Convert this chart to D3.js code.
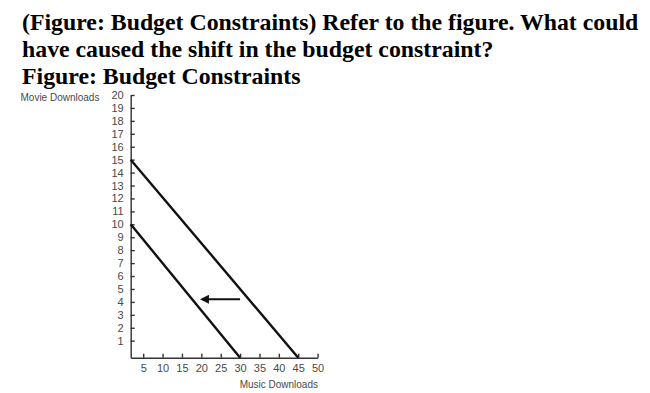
<!DOCTYPE html>
<html>
<head>
<meta charset="utf-8">
<script src="https://cdn.jsdelivr.net/npm/d3@7"></script>
<style>
    body { margin: 0; background: #fff; }
    .axis text { font-family: "Liberation Sans", Arial, sans-serif; font-size: 11px; fill: #4a4a4a; }
    .axis path, .axis line { stroke: #333; stroke-width: 1.4; }
</style>
</head>
<body>
<div class="chart"></div>
<script>
// question text
const titleLines = [
    "(Figure: Budget Constraints) Refer to the figure. What could",
    "have caused the shift in the budget constraint?",
    "Figure: Budget Constraints"
];

const yTicks = [1, 2, 3, 4, 5, 6, 7, 8, 9, 10, 11, 12, 13, 14, 15, 16, 17, 18, 19, 20];
const xTicks = [5, 10, 15, 20, 25, 30, 35, 40, 45, 50];

// budget lines (music, movies)
const oldBudget = [{music: 0, movies: 15}, {music: 45, movies: 0}];
const newBudget = [{music: 0, movies: 10}, {music: 30, movies: 0}];
const shiftArrow = [{music: 30, movies: 4.2}, {music: 21.5, movies: 4.2}];

const width = 650, height = 393;

const svg = d3.select(".chart")
    .append("svg")
    .attr("width", width)
    .attr("height", height);

svg.append("defs").append("marker")
    .attr("id", "head")
    .attr("viewBox", "0 0 10 10")
    .attr("refX", 2)
    .attr("refY", 5)
    .attr("markerWidth", 12)
    .attr("markerHeight", 9)
    .attr("orient", "auto")
    .attr("markerUnits", "userSpaceOnUse")
    .append("path")
    .attr("d", "M0,0 L10,5 L0,10 z")
    .attr("fill", "#111");

svg.selectAll("text.title")
    .data(titleLines)
    .enter().append("text")
    .attr("class", "title")
    .attr("x", 22)
    .attr("y", (d, i) => 29.5 + i * 27)
    .attr("font-family", "'Liberation Serif', 'Times New Roman', serif")
    .attr("font-weight", "bold")
    .attr("font-size", "23.8px")
    .attr("fill", "#000")
    .text(d => d);

// the printed figure has an uneven first interval, so the scales are piecewise
const x = d3.scaleLinear()
    .domain([0, 5, 50])
    .range([130.7, 143.2, 317.6]);

const y = d3.scaleLinear()
    .domain([0, 1, 20])
    .range([357.7, 340.7, 95]);

svg.append("g")
    .attr("class", "axis")
    .attr("transform", "translate(" + x(0) + ",0)")
    .call(d3.axisLeft(y).tickValues(yTicks).tickSize(-4).tickSizeOuter(0).tickPadding(7));

svg.append("g")
    .attr("class", "axis")
    .attr("transform", "translate(0," + y(0) + ")")
    .call(d3.axisBottom(x).tickValues(xTicks).tickSize(-4).tickSizeOuter(0).tickPadding(7));

svg.append("text")
    .attr("x", 20.5)
    .attr("y", 100.5)
    .attr("font-family", "'Liberation Sans', Arial, sans-serif")
    .attr("font-size", "10px")
    .attr("fill", "#4a4a4a")
    .text("Movie Downloads");

svg.append("text")
    .attr("x", 318)
    .attr("y", 387.5)
    .attr("text-anchor", "end")
    .attr("font-family", "'Liberation Sans', Arial, sans-serif")
    .attr("font-size", "10px")
    .attr("fill", "#4a4a4a")
    .text("Music Downloads");

const line = d3.line()
    .x(d => x(d.music))
    .y(d => y(d.movies));

svg.selectAll("path.budget")
    .data([oldBudget, newBudget])
    .enter().append("path")
    .attr("class", "budget")
    .attr("d", line)
    .attr("fill", "none")
    .attr("stroke", "#111")
    .attr("stroke-width", 2.4);

svg.append("path")
    .attr("d", line(shiftArrow))
    .attr("fill", "none")
    .attr("stroke", "#111")
    .attr("stroke-width", 2)
    .attr("marker-end", "url(#head)");
</script>
</body>
</html>
